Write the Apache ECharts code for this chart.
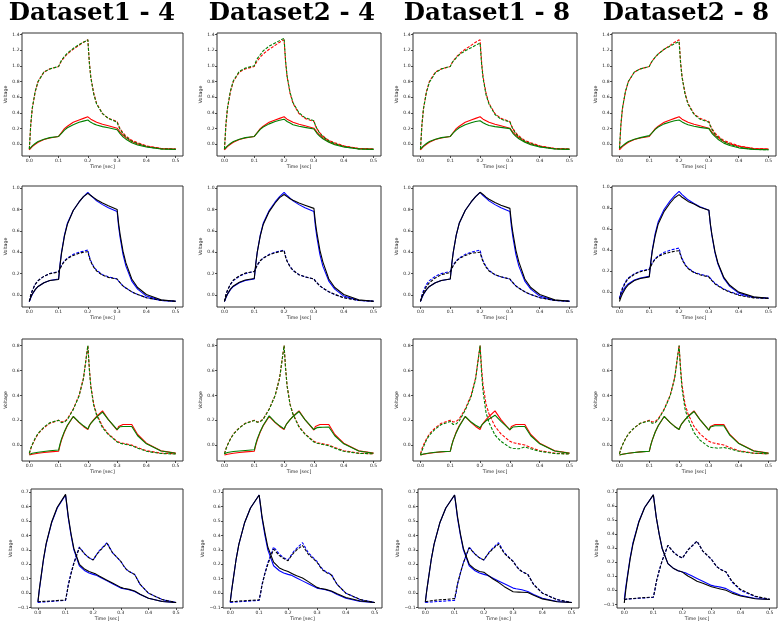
<!DOCTYPE html>
<html><head><meta charset="utf-8">
<script src="https://cdn.jsdelivr.net/npm/echarts@6/dist/echarts.min.js"></script>
<style>html,body{margin:0;padding:0;background:#fff}#c{width:779px;height:626px}</style>
</head><body><div id="c"></div>
<script>
// ---------- DATA ----------
const TIME = [0, 0.005, 0.01, 0.02, 0.03, 0.05, 0.07, 0.1, 0.105, 0.11, 0.12, 0.13, 0.15, 0.17, 0.185, 0.2,
  0.205, 0.21, 0.22, 0.23, 0.25, 0.27, 0.3, 0.305, 0.31, 0.32, 0.33, 0.35, 0.37, 0.4, 0.45, 0.5];
const X_TICKS = [0, 0.1, 0.2, 0.3, 0.4, 0.5];
const Y_TICKS_R1 = [0, 0.2, 0.4, 0.6, 0.8, 1.0, 1.2, 1.4];
const Y_TICKS_R2 = [0, 0.2, 0.4, 0.6, 0.8, 1.0];
const Y_TICKS_R3 = [0, 0.2, 0.4, 0.6, 0.8];
const Y_TICKS_R4 = [-0.1, 0, 0.1, 0.2, 0.3, 0.4, 0.5, 0.6, 0.7];
const TITLES = ['Dataset1 - 4', 'Dataset2 - 4', 'Dataset1 - 8', 'Dataset2 - 8'];
const X_NAME = 'Time [sec]';
const Y_NAME = 'Voltage';

// Row 1 (red = reference, green = estimate); solid = lower curve, dashed = upper curve
const R1_SOLID_REF = [-0.07, -0.05, -0.03, 0.0, 0.025, 0.06, 0.08, 0.10, 0.12, 0.15, 0.20, 0.23, 0.28, 0.31, 0.33, 0.35,
  0.335, 0.32, 0.30, 0.28, 0.255, 0.235, 0.205, 0.18, 0.155, 0.115, 0.085, 0.035, 0.005, -0.025, -0.055, -0.062];
const R1_DASH_REF = [-0.07, 0.25, 0.45, 0.67, 0.80, 0.92, 0.96, 0.99, 1.03, 1.06, 1.11, 1.15, 1.21, 1.26, 1.30, 1.33,
  1.05, 0.86, 0.65, 0.52, 0.39, 0.33, 0.29, 0.24, 0.20, 0.145, 0.105, 0.05, 0.02, -0.02, -0.053, -0.062];
const R1C1_SOLID = [-0.06, -0.04, -0.02, 0.01, 0.035, 0.065, 0.085, 0.10, 0.115, 0.14, 0.18, 0.21, 0.25, 0.28, 0.295, 0.31,
  0.295, 0.28, 0.26, 0.245, 0.225, 0.21, 0.185, 0.16, 0.135, 0.095, 0.065, 0.02, -0.01, -0.035, -0.06, -0.065];
const R1C1_DASH = [-0.06, 0.26, 0.46, 0.67, 0.80, 0.92, 0.96, 0.99, 1.03, 1.07, 1.12, 1.16, 1.22, 1.27, 1.30, 1.33,
  1.04, 0.85, 0.64, 0.51, 0.39, 0.33, 0.28, 0.23, 0.19, 0.135, 0.095, 0.04, 0.01, -0.03, -0.058, -0.064];
const R1C2_SOLID = [-0.06, -0.04, -0.02, 0.01, 0.035, 0.065, 0.085, 0.10, 0.12, 0.145, 0.19, 0.22, 0.26, 0.29, 0.305, 0.32,
  0.305, 0.29, 0.27, 0.25, 0.23, 0.215, 0.195, 0.17, 0.14, 0.10, 0.07, 0.025, -0.005, -0.035, -0.06, -0.065];
const R1C2_DASH = [-0.06, 0.26, 0.46, 0.68, 0.81, 0.93, 0.97, 1.0, 1.05, 1.09, 1.14, 1.19, 1.25, 1.29, 1.32, 1.35,
  1.06, 0.87, 0.66, 0.53, 0.40, 0.34, 0.30, 0.24, 0.20, 0.14, 0.10, 0.045, 0.01, -0.03, -0.058, -0.064];
const R1C3_SOLID = [-0.06, -0.04, -0.02, 0.01, 0.035, 0.065, 0.085, 0.10, 0.12, 0.145, 0.18, 0.21, 0.25, 0.275, 0.29, 0.30,
  0.29, 0.275, 0.255, 0.24, 0.225, 0.215, 0.20, 0.17, 0.14, 0.10, 0.07, 0.025, -0.005, -0.035, -0.06, -0.065];
const R1C3_DASH = [-0.06, 0.25, 0.45, 0.66, 0.79, 0.91, 0.96, 0.99, 1.03, 1.06, 1.10, 1.14, 1.19, 1.23, 1.26, 1.29,
  1.02, 0.84, 0.63, 0.51, 0.38, 0.32, 0.285, 0.235, 0.195, 0.135, 0.095, 0.04, 0.01, -0.03, -0.057, -0.063];
const R1C4_SOLID = [-0.05, -0.035, -0.02, 0.01, 0.035, 0.065, 0.085, 0.11, 0.125, 0.15, 0.19, 0.22, 0.26, 0.285, 0.30, 0.31,
  0.30, 0.285, 0.265, 0.25, 0.23, 0.215, 0.20, 0.17, 0.14, 0.10, 0.065, 0.015, -0.015, -0.045, -0.065, -0.07];
const R1C4_DASH = [-0.05, 0.26, 0.46, 0.67, 0.80, 0.92, 0.96, 0.99, 1.03, 1.06, 1.11, 1.15, 1.21, 1.25, 1.28, 1.31,
  1.03, 0.85, 0.64, 0.51, 0.38, 0.32, 0.28, 0.23, 0.19, 0.13, 0.09, 0.035, 0.0, -0.04, -0.065, -0.07];

// Row 2 (blue = reference, black = estimate); solid = upper curve, dashed = lower curve
const R2_SOLID_REF = [-0.06, -0.025, 0.005, 0.05, 0.08, 0.115, 0.135, 0.15, 0.29, 0.40, 0.56, 0.67, 0.79, 0.87, 0.92, 0.96,
  0.945, 0.93, 0.905, 0.88, 0.845, 0.815, 0.78, 0.64, 0.54, 0.38, 0.27, 0.13, 0.055, -0.01, -0.05, -0.058];
const R2_DASH_REF = [-0.06, 0.0, 0.04, 0.10, 0.135, 0.175, 0.20, 0.22, 0.25, 0.28, 0.32, 0.345, 0.38, 0.40, 0.41, 0.42,
  0.36, 0.32, 0.265, 0.23, 0.19, 0.17, 0.15, 0.13, 0.115, 0.085, 0.065, 0.03, 0.005, -0.025, -0.05, -0.058];
const R2C1_SOLID = [-0.06, -0.02, 0.01, 0.05, 0.08, 0.115, 0.135, 0.145, 0.28, 0.39, 0.55, 0.66, 0.79, 0.87, 0.92, 0.95,
  0.94, 0.93, 0.91, 0.89, 0.86, 0.835, 0.80, 0.67, 0.57, 0.41, 0.30, 0.15, 0.07, 0.005, -0.045, -0.058];
const R2C1_DASH = [-0.06, 0.0, 0.04, 0.10, 0.135, 0.175, 0.20, 0.215, 0.245, 0.275, 0.315, 0.34, 0.37, 0.39, 0.40, 0.405,
  0.35, 0.31, 0.26, 0.225, 0.185, 0.165, 0.15, 0.13, 0.115, 0.085, 0.065, 0.03, 0.005, -0.025, -0.05, -0.058];
const R2C2_SOLID = [-0.06, -0.02, 0.01, 0.055, 0.085, 0.12, 0.14, 0.155, 0.29, 0.40, 0.55, 0.66, 0.78, 0.86, 0.91, 0.94,
  0.93, 0.92, 0.90, 0.885, 0.86, 0.84, 0.81, 0.68, 0.58, 0.42, 0.31, 0.15, 0.07, 0.005, -0.045, -0.058];
const R2C2_DASH = [-0.06, 0.005, 0.045, 0.10, 0.14, 0.18, 0.205, 0.22, 0.25, 0.28, 0.32, 0.345, 0.375, 0.395, 0.405, 0.415,
  0.355, 0.315, 0.265, 0.23, 0.19, 0.17, 0.15, 0.13, 0.115, 0.085, 0.065, 0.03, 0.005, -0.025, -0.05, -0.058];
const R2C3_SOLID = [-0.06, -0.02, 0.01, 0.05, 0.08, 0.115, 0.135, 0.15, 0.29, 0.40, 0.56, 0.67, 0.79, 0.87, 0.92, 0.96,
  0.95, 0.94, 0.915, 0.895, 0.865, 0.84, 0.81, 0.68, 0.58, 0.42, 0.31, 0.15, 0.07, 0.005, -0.045, -0.058];
const R2C3_DASH = [-0.06, -0.01, 0.025, 0.08, 0.115, 0.16, 0.19, 0.21, 0.245, 0.275, 0.315, 0.34, 0.37, 0.39, 0.395, 0.40,
  0.35, 0.31, 0.26, 0.225, 0.19, 0.17, 0.15, 0.13, 0.115, 0.085, 0.065, 0.03, 0.005, -0.025, -0.05, -0.058];
const R2C4_SOLID = [-0.09, -0.05, -0.015, 0.035, 0.07, 0.11, 0.13, 0.145, 0.28, 0.39, 0.54, 0.65, 0.77, 0.85, 0.90, 0.93,
  0.92, 0.905, 0.885, 0.865, 0.84, 0.81, 0.78, 0.65, 0.55, 0.39, 0.28, 0.14, 0.065, 0.0, -0.045, -0.058];
const R2C4_DASH = [-0.07, -0.01, 0.03, 0.09, 0.13, 0.17, 0.195, 0.215, 0.245, 0.275, 0.315, 0.34, 0.365, 0.38, 0.39, 0.395,
  0.35, 0.31, 0.26, 0.225, 0.185, 0.165, 0.145, 0.125, 0.11, 0.08, 0.06, 0.025, 0.0, -0.03, -0.055, -0.06];

// Row 3 (red = reference, green = estimate); solid = twin-peak curve, dashed = 0.8 peak curve
const R3_SOLID_REF = [-0.08, -0.077, -0.074, -0.07, -0.066, -0.06, -0.055, -0.05, 0.0, 0.04, 0.105, 0.155, 0.23, 0.18, 0.15, 0.125,
  0.155, 0.175, 0.205, 0.23, 0.275, 0.205, 0.12, 0.15, 0.16, 0.165, 0.165, 0.165, 0.085, 0.015, -0.045, -0.065];
const R3_DASH_REF = [-0.07, -0.03, 0.0, 0.05, 0.09, 0.14, 0.175, 0.20, 0.19, 0.185, 0.19, 0.21, 0.29, 0.40, 0.54, 0.80,
  0.62, 0.48, 0.33, 0.25, 0.15, 0.09, 0.03, 0.025, 0.02, 0.015, 0.01, 0.0, -0.02, -0.045, -0.065, -0.07];
const R3C1_SOLID = [-0.075, -0.07, -0.066, -0.062, -0.058, -0.052, -0.046, -0.04, 0.01, 0.05, 0.11, 0.16, 0.23, 0.185, 0.155, 0.13,
  0.155, 0.175, 0.20, 0.225, 0.265, 0.205, 0.125, 0.14, 0.148, 0.15, 0.15, 0.15, 0.075, 0.01, -0.048, -0.066];
const R3C1_DASH = [-0.065, -0.025, 0.005, 0.055, 0.095, 0.145, 0.18, 0.20, 0.185, 0.18, 0.185, 0.205, 0.285, 0.395, 0.535, 0.80,
  0.61, 0.47, 0.32, 0.24, 0.14, 0.085, 0.025, 0.02, 0.015, 0.01, 0.005, -0.005, -0.025, -0.05, -0.068, -0.072];
const R3C2_SOLID = [-0.07, -0.065, -0.06, -0.055, -0.052, -0.047, -0.043, -0.038, 0.01, 0.05, 0.11, 0.16, 0.235, 0.185, 0.155, 0.13,
  0.155, 0.175, 0.205, 0.23, 0.27, 0.205, 0.125, 0.135, 0.14, 0.142, 0.143, 0.145, 0.075, 0.01, -0.048, -0.066];
const R3C2_DASH = [-0.072, -0.032, -0.002, 0.048, 0.088, 0.138, 0.174, 0.198, 0.188, 0.183, 0.188, 0.208, 0.288, 0.398, 0.538, 0.80,
  0.615, 0.475, 0.325, 0.245, 0.145, 0.088, 0.025, 0.02, 0.015, 0.01, 0.005, -0.005, -0.025, -0.05, -0.067, -0.07];
const R3C3_SOLID = [-0.08, -0.075, -0.072, -0.068, -0.064, -0.058, -0.054, -0.05, 0.0, 0.04, 0.10, 0.15, 0.23, 0.185, 0.16, 0.14,
  0.16, 0.175, 0.195, 0.21, 0.24, 0.19, 0.125, 0.14, 0.145, 0.148, 0.15, 0.15, 0.075, 0.01, -0.048, -0.066];
const R3C3_DASH = [-0.08, -0.045, -0.015, 0.04, 0.08, 0.13, 0.165, 0.19, 0.175, 0.165, 0.17, 0.195, 0.28, 0.39, 0.53, 0.80,
  0.58, 0.43, 0.26, 0.18, 0.08, 0.03, -0.02, -0.022, -0.025, -0.028, -0.03, -0.015, -0.03, -0.05, -0.068, -0.072];
const R3C4_SOLID = [-0.08, -0.077, -0.074, -0.07, -0.066, -0.06, -0.055, -0.05, 0.0, 0.04, 0.105, 0.155, 0.23, 0.18, 0.15, 0.125,
  0.155, 0.175, 0.205, 0.23, 0.27, 0.205, 0.12, 0.145, 0.152, 0.155, 0.155, 0.155, 0.08, 0.012, -0.047, -0.066];
const R3C4_DASH = [-0.07, -0.03, 0.0, 0.05, 0.09, 0.14, 0.175, 0.195, 0.18, 0.175, 0.18, 0.205, 0.285, 0.395, 0.535, 0.80,
  0.60, 0.45, 0.29, 0.21, 0.10, 0.04, -0.015, -0.018, -0.02, -0.022, -0.025, -0.02, -0.03, -0.05, -0.066, -0.07];

// Row 4 (blue = reference, black = estimate); solid = 0.69 peak curve, dashed = late curve
const R4_SOLID_REF = [-0.065, 0.02, 0.09, 0.23, 0.34, 0.49, 0.59, 0.68, 0.60, 0.52, 0.40, 0.30, 0.19, 0.155, 0.14, 0.13,
  0.13, 0.125, 0.115, 0.105, 0.085, 0.065, 0.035, 0.033, 0.03, 0.027, 0.023, 0.012, -0.01, -0.035, -0.058, -0.065];
const R4_DASH_REF = [-0.065, -0.064, -0.063, -0.061, -0.06, -0.057, -0.054, -0.05, 0.0, 0.06, 0.14, 0.21, 0.32, 0.27, 0.245, 0.23,
  0.245, 0.26, 0.29, 0.31, 0.35, 0.28, 0.22, 0.205, 0.19, 0.165, 0.15, 0.13, 0.06, 0.0, -0.045, -0.065];
const R4C1_SOLID = [-0.06, 0.025, 0.095, 0.235, 0.345, 0.495, 0.595, 0.685, 0.61, 0.53, 0.41, 0.31, 0.20, 0.165, 0.15, 0.14,
  0.138, 0.132, 0.12, 0.11, 0.09, 0.07, 0.04, 0.037, 0.034, 0.03, 0.026, 0.015, -0.008, -0.035, -0.058, -0.065];
const R4C1_DASH = [-0.06, -0.059, -0.058, -0.057, -0.056, -0.054, -0.051, -0.048, 0.0, 0.055, 0.135, 0.205, 0.315, 0.27, 0.245, 0.23,
  0.245, 0.26, 0.285, 0.305, 0.345, 0.28, 0.22, 0.205, 0.19, 0.165, 0.15, 0.13, 0.06, 0.0, -0.045, -0.065];
const R4C2_SOLID = [-0.06, 0.02, 0.09, 0.23, 0.34, 0.49, 0.59, 0.68, 0.61, 0.53, 0.42, 0.32, 0.215, 0.175, 0.16, 0.15,
  0.145, 0.14, 0.13, 0.12, 0.105, 0.08, 0.04, 0.037, 0.034, 0.03, 0.026, 0.015, -0.005, -0.03, -0.055, -0.065];
const R4C2_DASH = [-0.06, -0.059, -0.058, -0.057, -0.055, -0.053, -0.05, -0.047, 0.0, 0.055, 0.135, 0.20, 0.305, 0.26, 0.24, 0.225,
  0.24, 0.255, 0.28, 0.30, 0.33, 0.27, 0.215, 0.20, 0.185, 0.16, 0.145, 0.125, 0.06, 0.0, -0.045, -0.065];
const R4C3_SOLID = [-0.06, 0.02, 0.09, 0.23, 0.34, 0.49, 0.59, 0.68, 0.61, 0.53, 0.41, 0.31, 0.20, 0.165, 0.15, 0.145,
  0.14, 0.13, 0.115, 0.10, 0.075, 0.045, 0.01, 0.009, 0.008, 0.007, 0.006, 0.004, -0.015, -0.04, -0.06, -0.065];
const R4C3_DASH = [-0.06, -0.058, -0.056, -0.053, -0.05, -0.046, -0.043, -0.038, 0.01, 0.065, 0.14, 0.21, 0.315, 0.27, 0.245, 0.23,
  0.245, 0.26, 0.285, 0.305, 0.34, 0.275, 0.22, 0.205, 0.19, 0.165, 0.15, 0.13, 0.06, 0.0, -0.045, -0.065];
const R4C4_SOLID = [-0.09, 0.0, 0.08, 0.22, 0.33, 0.485, 0.59, 0.68, 0.60, 0.52, 0.40, 0.30, 0.19, 0.155, 0.14, 0.13,
  0.125, 0.115, 0.10, 0.09, 0.065, 0.05, 0.025, 0.022, 0.02, 0.015, 0.01, 0.0, -0.02, -0.04, -0.06, -0.065];
const R4C4_DASH = [-0.065, -0.063, -0.062, -0.06, -0.058, -0.055, -0.052, -0.048, 0.0, 0.06, 0.14, 0.21, 0.32, 0.27, 0.245, 0.23,
  0.245, 0.26, 0.29, 0.31, 0.35, 0.28, 0.22, 0.205, 0.19, 0.165, 0.15, 0.13, 0.065, 0.005, -0.042, -0.063];

// ---------- ASSEMBLY ----------
const ROWS = [
  {ticks: Y_TICKS_R1, refSolid: R1_SOLID_REF, refDash: R1_DASH_REF, refColor: '#ff0000', estColor: '#008000',
   est: [[R1C1_SOLID, R1C1_DASH], [R1C2_SOLID, R1C2_DASH], [R1C3_SOLID, R1C3_DASH], [R1C4_SOLID, R1C4_DASH]]},
  {ticks: Y_TICKS_R2, refSolid: R2_SOLID_REF, refDash: R2_DASH_REF, refColor: '#0000ff', estColor: '#000000',
   est: [[R2C1_SOLID, R2C1_DASH], [R2C2_SOLID, R2C2_DASH], [R2C3_SOLID, R2C3_DASH], [R2C4_SOLID, R2C4_DASH]]},
  {ticks: Y_TICKS_R3, refSolid: R3_SOLID_REF, refDash: R3_DASH_REF, refColor: '#ff0000', estColor: '#008000',
   est: [[R3C1_SOLID, R3C1_DASH], [R3C2_SOLID, R3C2_DASH], [R3C3_SOLID, R3C3_DASH], [R3C4_SOLID, R3C4_DASH]]},
  {ticks: Y_TICKS_R4, refSolid: R4_SOLID_REF, refDash: R4_DASH_REF, refColor: '#0000ff', estColor: '#000000',
   est: [[R4C1_SOLID, R4C1_DASH], [R4C2_SOLID, R4C2_DASH], [R4C3_SOLID, R4C3_DASH], [R4C4_SOLID, R4C4_DASH]]}
];

// layout (pixel boxes of each panel)
const ROW_TOP = [33, 186, 339, 489];
const ROW_BOTTOM = [156, 307, 461, 608];
const COL_LEFT = [[22, 217, 413, 612], [22, 217, 413, 612], [22, 217, 413, 612], [31, 223, 418, 617]];
const COL_RIGHT = [[183, 381, 577, 776], [183, 381, 577, 776], [183, 381, 577, 776], [183, 382, 579, 777]];
const Y_RANGE = [
  [[-0.149, 1.417], [-0.149, 1.417], [-0.149, 1.417], [-0.149, 1.417]],
  [[-0.112, 1.019], [-0.112, 1.019], [-0.112, 1.019], [-0.142, 1.012]],
  [[-0.128, 0.853], [-0.128, 0.853], [-0.128, 0.853], [-0.128, 0.853]],
  [[-0.103, 0.722], [-0.103, 0.722], [-0.103, 0.722], [-0.126, 0.722]]
];
const TITLE_X = [92, 292, 487, 686];

const pts = arr => TIME.map((t, i) => [t, arr[i]]);
const fmt = v => (v < 0 ? '\u2212' : '') + Math.abs(v).toFixed(1);
const FONT = 'DejaVu Sans';
const grids = [], xAxes = [], yAxes = [], series = [];
const DASH = [3, 1.5];

ROWS.forEach((row, r) => {
  for (let c = 0; c < 4; c++) {
    const k = r * 4 + c;
    const L = COL_LEFT[r][c], R = COL_RIGHT[r][c], T = ROW_TOP[r], B = ROW_BOTTOM[r];
    grids.push({left: L, top: T, width: R - L, height: B - T, show: true,
      borderColor: '#333', borderWidth: 1, backgroundColor: 'transparent'});
    xAxes.push({type: 'value', gridIndex: k, min: -0.025, max: 0.525,
      axisLine: {show: false, onZero: false},
      axisTick: {show: true, length: 2, lineStyle: {color: '#222', width: 0.8}, customValues: X_TICKS},
      axisLabel: {fontSize: 4.5, fontFamily: FONT, color: '#222', margin: 2, customValues: X_TICKS, formatter: fmt},
      splitLine: {show: false},
      name: X_NAME, nameLocation: 'middle', nameGap: 8,
      nameTextStyle: {fontSize: 4.7, fontFamily: FONT, color: '#222'}});
    yAxes.push({type: 'value', gridIndex: k, min: Y_RANGE[r][c][0], max: Y_RANGE[r][c][1],
      axisLine: {show: false, onZero: false},
      axisTick: {show: true, length: 2, lineStyle: {color: '#222', width: 0.8}, customValues: row.ticks},
      axisLabel: {fontSize: 4.5, fontFamily: FONT, color: '#222', margin: 2.5, customValues: row.ticks, formatter: fmt},
      splitLine: {show: false},
      name: Y_NAME, nameLocation: 'middle', nameGap: 14,
      nameTextStyle: {fontSize: 4.7, fontFamily: FONT, color: '#222'}});
    const mk = (arr, color, dashed, z) => ({
      type: 'line', xAxisIndex: k, yAxisIndex: k, data: pts(arr), showSymbol: false, symbol: 'none',
      animation: false, silent: true, z: z,
      lineStyle: {color: color, width: 1.1, type: dashed ? DASH : 'solid'}
    });
    series.push(mk(row.refSolid, row.refColor, false, 2));
    series.push(mk(row.refDash, row.refColor, true, 2));
    series.push(mk(row.est[c][0], row.estColor, false, 3));
    series.push(mk(row.est[c][1], row.estColor, true, 3));
  }
});

const graphics = TITLES.map((t, i) => ({
  type: 'text', x: TITLE_X[i], y: 1,
  style: {text: t, fill: '#000', fontFamily: '"DejaVu Serif", "Liberation Serif", serif', fontWeight: 'bold',
    fontSize: 24.5, align: 'center', verticalAlign: 'top'}
}));

const chart = echarts.init(document.getElementById('c'), null, {renderer: 'canvas'});
chart.setOption({
  animation: false,
  backgroundColor: '#fff',
  grid: grids, xAxis: xAxes, yAxis: yAxes, series: series,
  graphic: graphics
});
</script>
</body></html>
